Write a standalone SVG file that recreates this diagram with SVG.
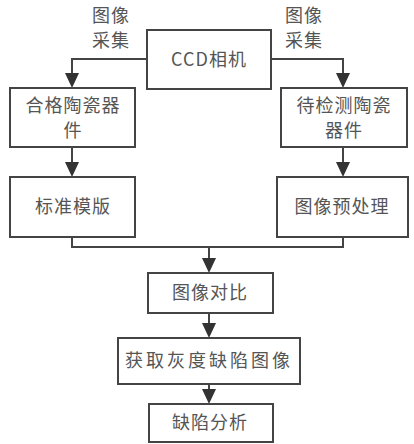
<svg xmlns="http://www.w3.org/2000/svg" width="414" height="444" viewBox="0 0 414 444">
<defs>
<style>
.box{fill:#fff;stroke:#444;stroke-width:2}
.t{font-family:"Noto Sans CJK SC","Liberation Serif",serif;font-size:18px;fill:#555;text-anchor:middle;letter-spacing:1px}
.c{fill:none;stroke:#444;stroke-width:2}
.ah{fill:#333}
</style>
</defs>
<rect width="414" height="444" fill="#fff"/>
<g id="connectors">
<path class="c" d="M147,59 H72 V80"/>
<path class="c" d="M271,59 H343 V80"/>
<path class="c" d="M72,147 V170"/>
<path class="c" d="M343,147 V170"/>
<path class="c" d="M72,237 V247 H343 V237"/>
<path class="c" d="M209,247 V266"/>
<path class="c" d="M209,313 V331"/>
<path class="c" d="M209,384 V397"/>
<path class="ah" d="M65,73 L79,73 L72,88 Z"/>
<path class="ah" d="M336,73 L350,73 L343,88 Z"/>
<path class="ah" d="M65,162 L79,162 L72,177 Z"/>
<path class="ah" d="M336,162 L350,162 L343,177 Z"/>
<path class="ah" d="M202,258 L216,258 L209,273 Z"/>
<path class="ah" d="M202,323 L216,323 L209,338 Z"/>
<path class="ah" d="M202,389 L216,389 L209,404 Z"/>
<text class="t" x="111" y="22">图像</text>
<text class="t" x="111" y="47">采集</text>
<text class="t" x="304" y="22">图像</text>
<text class="t" x="304" y="47">采集</text>
</g>
<g id="n-ccd"><rect class="box" x="147" y="30" width="124" height="59"/><text class="t" x="209" y="66">CCD相机</text></g>
<g id="n-qualified"><rect class="box" x="10" y="88" width="125" height="59"/><text class="t" x="73" y="112">合格陶瓷器</text><text class="t" x="73" y="137">件</text></g>
<g id="n-test"><rect class="box" x="281" y="88" width="126" height="59"/><text class="t" x="344" y="112">待检测陶瓷</text><text class="t" x="344" y="137">器件</text></g>
<g id="n-template"><rect class="box" x="10" y="177" width="125" height="60"/><text class="t" x="73" y="213">标准模版</text></g>
<g id="n-preprocess"><rect class="box" x="277" y="177" width="131" height="60"/><text class="t" x="342" y="213">图像预处理</text></g>
<g id="n-compare"><rect class="box" x="148" y="273" width="125" height="40"/><text class="t" x="210" y="299">图像对比</text></g>
<g id="n-gray"><rect class="box" x="118" y="338" width="182" height="46"/><text class="t" x="209" y="367" style="letter-spacing:3px">获取灰度缺陷图像</text></g>
<g id="n-analysis"><rect class="box" x="149" y="404" width="124" height="38"/><text class="t" x="210" y="429">缺陷分析</text></g>
</svg>
